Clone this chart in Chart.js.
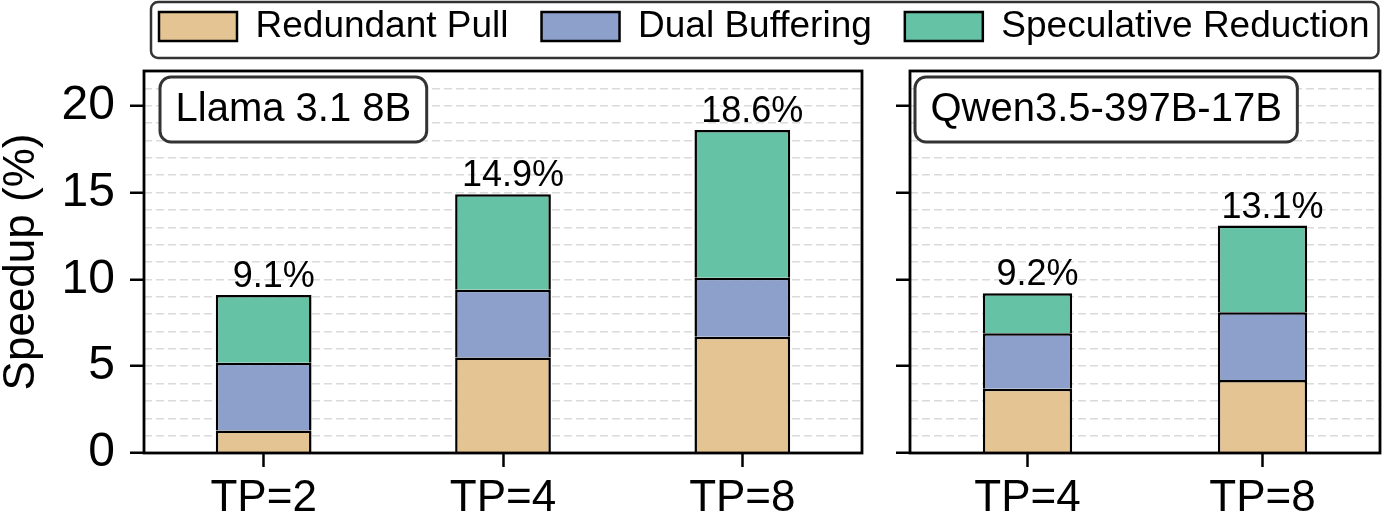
<!DOCTYPE html>
<html>
<head>
<meta charset="utf-8">
<script src="https://cdn.jsdelivr.net/npm/chart.js@4.4.1/dist/chart.umd.min.js"></script>
<style>
    html, body { margin: 0; padding: 0; background: #fff; }
    #wrap { position: relative; width: 1390px; height: 525px; overflow: hidden; }
    #wrap > div { position: absolute; }
</style>
</head>
<body>
<div id="wrap">
    <div style="left:0;top:0;width:870px;height:525px"><canvas id="leftChart"></canvas></div>
    <div style="left:870px;top:0;width:520px;height:525px"><canvas id="rightChart"></canvas></div>
    <div style="left:0;top:-25px;width:1410px;height:140px"><canvas id="legendChart"></canvas></div>
</div>
<script>
// series names and colours
const seriesNames = ['Redundant Pull', 'Dual Buffering', 'Speculative Reduction'];
const seriesColors = ['#e5c494', '#8da0cb', '#66c2a5'];

// Llama 3.1 8B panel
const llamaTitle = 'Llama 3.1 8B';
const llamaCategories = ['TP=2', 'TP=4', 'TP=8'];
const llamaRedundantPull = [1.3, 5.5, 6.7];
const llamaDualBuffering = [3.9, 3.9, 3.4];
const llamaSpeculative = [3.9, 5.5, 8.5];
const llamaTotals = [9.1, 14.9, 18.6];

// Qwen3.5-397B-17B panel
const qwenTitle = 'Qwen3.5-397B-17B';
const qwenCategories = ['TP=4', 'TP=8'];
const qwenRedundantPull = [3.7, 4.2];
const qwenDualBuffering = [3.2, 3.9];
const qwenSpeculative = [2.3, 5.0];
const qwenTotals = [9.2, 13.1];

const yMin = 0;
const yMax = 22;

Chart.defaults.font.family = "'Liberation Sans', Arial, Helvetica, sans-serif";
Chart.defaults.color = '#000';

function makeDatasets(values, barPct) {
    return values.map((vals, i) => ({
        label: seriesNames[i],
        data: vals,
        backgroundColor: seriesColors[i],
        borderColor: '#000',
        borderWidth: 2.5,
        borderSkipped: 'start',
        barPercentage: barPct,
        categoryPercentage: 1.0
    }));
}

// frame, model box and total labels
function panelDecor(title, totals, boxGap) {
    return {
        id: 'panelDecor',
        afterDraw(chart) {
            const ctx = chart.ctx;
            const area = chart.chartArea;
            const yScale = chart.scales.y;
            const meta = chart.getDatasetMeta(0);

            // totals above bars
            ctx.save();
            ctx.font = "36px 'Liberation Sans', Arial, sans-serif";
            ctx.fillStyle = '#000';
            ctx.textAlign = 'center';
            ctx.textBaseline = 'alphabetic';
            totals.forEach((t, i) => {
                const x = meta.data[i].x + 10;
                const y = yScale.getPixelForValue(t) - 8;
                ctx.fillText(t.toFixed(1) + '%', x, y);
            });
            ctx.restore();

            // frame
            ctx.save();
            ctx.strokeStyle = '#000';
            ctx.lineWidth = 2.8;
            ctx.strokeRect(area.left, area.top, area.right - area.left, area.bottom - area.top);
            ctx.restore();

            // model name box
            ctx.save();
            ctx.font = "40px 'Liberation Sans', Arial, sans-serif";
            const tw = ctx.measureText(title).width;
            const bx = area.left + boxGap;
            const by = 77;
            const bw = tw + 31;
            const bh = 65;
            ctx.beginPath();
            ctx.roundRect(bx, by, bw, bh, 11);
            ctx.fillStyle = '#fff';
            ctx.fill();
            ctx.lineWidth = 3;
            ctx.strokeStyle = '#333';
            ctx.stroke();
            ctx.fillStyle = '#000';
            ctx.textBaseline = 'alphabetic';
            ctx.fillText(title, bx + 15.5, 121);
            ctx.restore();
        }
    };
}

function makeOptions(axisWidth, padRight, showLabels) {
    return {
        responsive: true,
        maintainAspectRatio: false,
        animation: false,
        layout: { padding: { top: 71, right: padRight, left: 0, bottom: 0 } },
        plugins: {
            legend: { display: false },
            tooltip: { enabled: false }
        },
        scales: {
            x: {
                stacked: true,
                grid: {
                    offset: false,
                    drawOnChartArea: false,
                    drawTicks: true,
                    tickLength: 14,
                    tickWidth: 2.5,
                    tickColor: '#000'
                },
                border: { display: false },
                ticks: { font: { size: 44 }, padding: 5, color: '#000' },
                afterFit(scale) { scale.height = 72; }
            },
            y: {
                stacked: true,
                min: yMin,
                max: yMax,
                grid: {
                    color: '#dadada',
                    lineWidth: 1.5,
                    tickLength: 14,
                    tickWidth: 2.5,
                    tickColor: ctx => (ctx.tick && ctx.tick.value % 5 === 0) ? '#000' : 'rgba(0,0,0,0)'
                },
                border: { display: false, dash: [8, 4] },
                ticks: {
                    display: showLabels,
                    stepSize: 1,
                    autoSkip: false,
                    font: { size: 48 },
                    padding: 15,
                    color: '#000',
                    callback: v => (v % 5 === 0 ? v : '')
                },
                title: {
                    display: showLabels,
                    text: 'Speedup (%)',
                    font: { size: 44, lineHeight: 1 },
                    padding: 0,
                    color: '#000'
                },
                afterFit(scale) { scale.width = axisWidth; }
            }
        }
    };
}

new Chart(document.getElementById('leftChart'), {
    type: 'bar',
    data: {
        labels: llamaCategories,
        datasets: makeDatasets([llamaRedundantPull, llamaDualBuffering, llamaSpeculative], 0.4)
    },
    options: makeOptions(144, 8, true),
    plugins: [panelDecor(llamaTitle, llamaTotals, 16)]
});

new Chart(document.getElementById('rightChart'), {
    type: 'bar',
    data: {
        labels: qwenCategories,
        datasets: makeDatasets([qwenRedundantPull, qwenDualBuffering, qwenSpeculative], 0.38)
    },
    options: makeOptions(40, 10, false),
    plugins: [panelDecor(qwenTitle, qwenTotals, 5)]
});

// shared legend across both panels
const legendBox = {
    id: 'legendBox',
    afterDraw(chart) {
        const hb = chart.legend.legendHitBoxes;
        if (!hb || !hb.length) return;
        const last = hb[hb.length - 1];
        const ctx = chart.ctx;
        const x0 = hb[0].left - 8;
        const x1 = last.left + last.width + 9;
        const y0 = hb[0].top - 6;
        const y1 = hb[0].top + 50;
        ctx.save();
        ctx.beginPath();
        ctx.roundRect(x0, y0, x1 - x0, y1 - y0, 7);
        ctx.lineWidth = 2.5;
        ctx.strokeStyle = '#333';
        ctx.stroke();
        ctx.restore();
    }
};

new Chart(document.getElementById('legendChart'), {
    type: 'bar',
    data: {
        labels: [],
        datasets: seriesNames.map((name, i) => ({
            label: name,
            data: [],
            backgroundColor: seriesColors[i],
            borderColor: '#000',
            borderWidth: 2.5
        }))
    },
    options: {
        responsive: true,
        maintainAspectRatio: false,
        animation: false,
        layout: { padding: { left: 120, right: 1.5, top: 0, bottom: 0 } },
        scales: { x: { display: false }, y: { display: false } },
        plugins: {
            tooltip: { enabled: false },
            legend: {
                position: 'top',
                maxHeight: 120,
                labels: {
                    font: { size: 37 },
                    color: '#000',
                    boxWidth: 78,
                    boxHeight: 29,
                    padding: 33
                }
            }
        }
    },
    plugins: [legendBox]
});
</script>
</body>
</html>
